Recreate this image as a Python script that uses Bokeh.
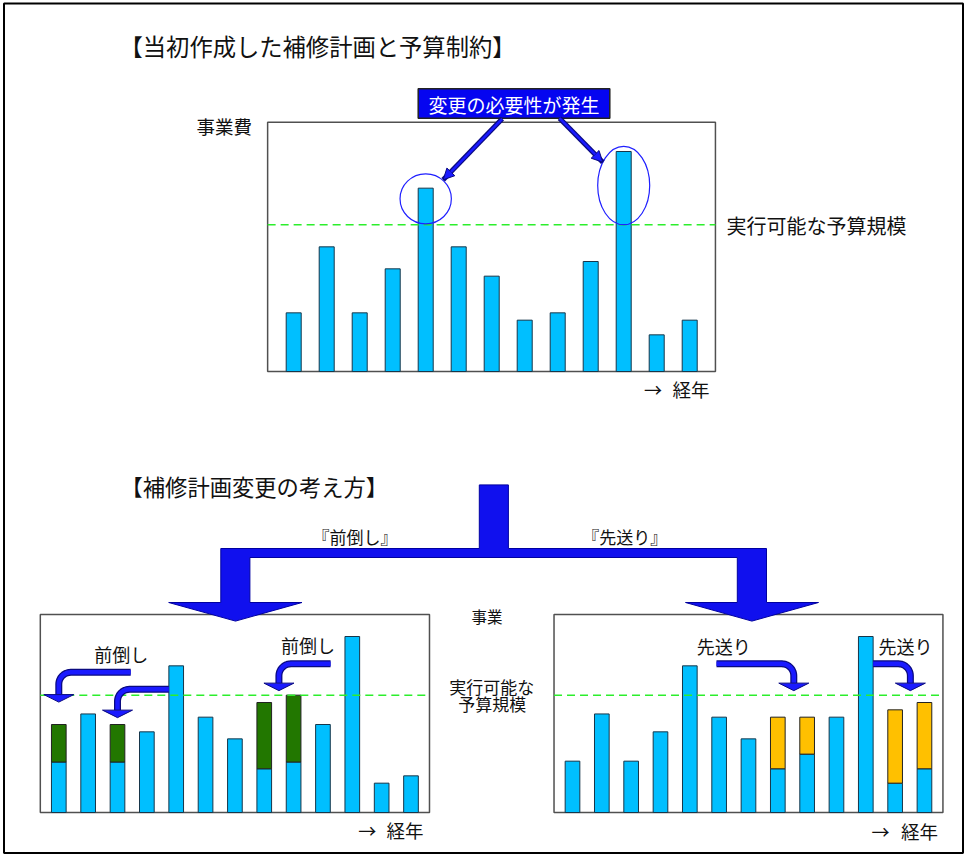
import math
from bokeh.plotting import figure
from bokeh.models import Range1d, Arrow, NormalHead
from bokeh.core.properties import value
from bokeh.embed import file_html
from bokeh.resources import INLINE

FONT = "Noto Sans CJK JP"

# ---------------- data ----------------
years = list(range(13))
plan = [8, 17, 8, 14, 25, 17, 13, 7, 8, 15, 30, 5, 7]
budget = 20
fwd_base = [8.6, 16.8, 8.6, 13.75, 25, 16.25, 12.55, 7.45, 8.6, 15, 30, 5, 6.25]
fwd_total = [15, 16.8, 15, 13.75, 25, 16.25, 12.55, 18.75, 20, 15, 30, 5, 6.25]
post_base = [8.75, 16.8, 8.75, 13.75, 25, 16.25, 12.55, 7.45, 9.95, 16.25, 30, 5, 7.45]
post_total = [8.75, 16.8, 8.75, 13.75, 25, 16.25, 12.55, 16.25, 16.25, 16.25, 30, 17.5, 18.75]

title1 = "【当初作成した補修計画と予算制約】"
title2 = "【補修計画変更の考え方】"
ylabel_top = "事業費"
budget_label = "実行可能な予算規模"
box_label = "変更の必要性が発生"
xlabel = "経年"
fwd_label = "前倒し"
post_label = "先送り"

# ---------------- layout ----------------
W, H = 964, 854
PX0, PX1, PY0, PY1 = 0, W, 0, H
panels = {
    "top": dict(x0=293.2, dx=33.0, y0=371.0, dy=22 / 3, left=-0.79, right=12.78, top=34.0, bw=0.455),
    "L": dict(x0=58.3, dx=29.35, y0=812.0, dy=17.6 / 3, left=-0.63, right=12.63, top=33.75, bw=0.5),
    "R": dict(x0=572.0, dx=29.33, y0=812.0, dy=17.6 / 3, left=-0.63, right=12.63, top=33.75, bw=0.5),
}

p = figure(width=W, height=H, x_range=Range1d(PX0, PX1), y_range=Range1d(PY1, PY0),
           output_backend="svg", toolbar_location=None, min_border=0,
           x_axis_location=None, y_axis_location=None)
p.xgrid.visible = False
p.ygrid.visible = False
p.outline_line_color = None
p.background_fill_color = "white"

for name, g in panels.items():
    p.extra_x_ranges[name] = Range1d((PX0 - g["x0"]) / g["dx"], (PX1 - g["x0"]) / g["dx"])
    p.extra_y_ranges[name] = Range1d((g["y0"] - PY1) / g["dy"], (g["y0"] - PY0) / g["dy"])


def px(name, i):
    g = panels[name]
    return g["x0"] + i * g["dx"]


def py(name, v):
    g = panels[name]
    return g["y0"] - v * g["dy"]


BLUE_BAR = "#00BFFF"
BAR_LINE = "#17364a"
GREEN = "#227700"
ORANGE = "#FFC000"
DASH = "#2cee2c"
FRAME = "#505050"
ARROW = "#1a1aff"
ARROW_DARK = "#0a0a80"

# outer border
p.quad(left=[3.5], right=[962.5], top=[3], bottom=[852.5], fill_color=None, line_color="black", line_width=2)


def panel(name, base, total, extra_color):
    g = panels[name]
    kw = dict(x_range_name=name, y_range_name=name)
    p.quad(left=[g["left"]], right=[g["right"]], bottom=[0], top=[g["top"]],
           fill_color=None, line_color=FRAME, line_width=1.5, **kw)
    p.vbar(x=years, top=base, bottom=0, width=g["bw"], fill_color=BLUE_BAR,
           line_color=BAR_LINE, line_width=1, **kw)
    if total is not None:
        xi = [x for x, b, t in zip(years, base, total) if t > b]
        bb = [b for b, t in zip(base, total) if t > b]
        tt = [t for b, t in zip(base, total) if t > b]
        p.vbar(x=xi, top=tt, bottom=bb, width=g["bw"], fill_color=extra_color,
               line_color="#222222", line_width=1, **kw)
    p.segment(x0=[g["left"]], x1=[g["right"]], y0=[budget], y1=[budget],
              line_color=DASH, line_width=1.5, line_dash="8 5", **kw)


panel("top", plan, None, None)
panel("L", fwd_base, fwd_total, GREEN)
panel("R", post_base, post_total, ORANGE)

# ellipses highlighting peaks
p.ellipse(x=[4, 10], y=[23.55, 25.36], width=[1.555, 1.576], height=[6.82, 10.68],
          fill_color=None, line_color="#2020ff", line_width=1.2,
          x_range_name="top", y_range_name="top")

# box + arrows
p.quad(left=[417.7], right=[609.3], top=[88.3], bottom=[117.7], fill_color="#0505f0",
       line_color="#222222", line_width=1.5)
for (x0, y0, x1, y1) in [(501.7, 118.3, 442.7, 179.3), (559.0, 117.7, 602.3, 161.7)]:
    p.segment(x0=[x0], y0=[y0], x1=[x1], y1=[y1], line_color=ARROW_DARK, line_width=5)
    p.add_layout(Arrow(x_start=x0, y_start=y0, x_end=x1, y_end=y1, line_color=ARROW,
                       line_width=2.5,
                       end=NormalHead(size=11, fill_color=ARROW, line_color=ARROW_DARK, line_width=1)))

# big split arrow
big_x = [478.8, 507.9, 507.9, 766.0, 766.0, 818.0, 751.4, 685.0, 736.8, 736.8, 249.4, 249.4,
         301.5, 235.0, 168.2, 220.3, 220.3, 478.8]
big_y = [484.4, 484.4, 548.0, 548.0, 602.0, 602.0, 620.6, 602.0, 602.0, 557.0, 557.0, 602.0,
         602.0, 620.6, 602.0, 602.0, 548.0, 548.0]
p.patch(big_x, big_y, fill_color="#1010ee", line_color="#0000a0", line_width=1)


# curved arrows (start idx, level, target idx, head base level)
def curved(name, i_start, lev, i_target, head_lev, r=12, half=15, depth=7.5):
    xs, yh = px(name, i_start), py(name, lev)
    xv, yb = px(name, i_target), py(name, head_lev)
    sgn = 1 if xv < xs else -1
    cx, cy = xv + sgn * r, yh + r
    th0, th1 = -90, (-180 if sgn == 1 else 0)
    pts_x = [xs]
    pts_y = [yh]
    for k in range(13):
        t = math.radians(th0 + (th1 - th0) * k / 12)
        pts_x.append(cx + r * math.cos(t))
        pts_y.append(cy + r * math.sin(t))
    pts_x.append(xv)
    pts_y.append(yb)
    p.line(pts_x, pts_y, line_color=ARROW_DARK, line_width=7)
    p.line(pts_x, pts_y, line_color=ARROW, line_width=4.5)
    p.patch([xv - half, xv + half, xv], [yb, yb, yb + depth], fill_color=ARROW,
            line_color=ARROW_DARK, line_width=1)


fwd_arrows = [(2.45, 23.9, 0.0, 20.1), (3.75, 21.0, 2.0, 17.45), (9.26, 25.35, 7.5, 22.05)]
post_arrows = [(4.91, 25.35, 7.545, 22.05), (10.25, 25.35, 11.52, 22.05)]
for a in fwd_arrows:
    curved("L", *a)
for a in post_arrows:
    curved("R", *a)


# texts
def txt(x, y, s, size, align="left", color="#111111"):
    p.text(x=[x], y=[y], text=[s], text_font=value(FONT), text_font_size=value(size),
           text_align=align, text_baseline="middle", text_color=color)


txt(119, 45, title1, "23.3px")
txt(120, 485, title2, "22.3px")
txt(196, 125, ylabel_top, "18.5px")
txt(513.5, 103.5, box_label, "19px", "center", "white")
txt(726, 225, budget_label, "20px")
txt(354.5, 535.5, "『" + fwd_label + "』", "17px", "center")
txt(624.2, 535.5, "『" + post_label + "』", "17px", "center")
txt(486.4, 615, "事業", "15.5px", "center")
txt(491.2, 686, budget_label[:5], "17px", "center")
txt(491.7, 702.5, budget_label[5:], "17px", "center")
txt(120.8, 653.3, fwd_label, "18px", "center")
txt(307.5, 644.3, fwd_label, "18px", "center")
txt(723.3, 645, post_label, "18px", "center")
txt(905, 645, post_label, "18px", "center")
for (ax, ay, lx) in [(652.5, 388, 672), (366.7, 829.3, 386), (880, 830, 900.5)]:
    txt(ax, ay, "→", "18px", "center")
    txt(lx, ay, xlabel, "18.5px")

open("out.html", "w").write(file_html(p, INLINE))
